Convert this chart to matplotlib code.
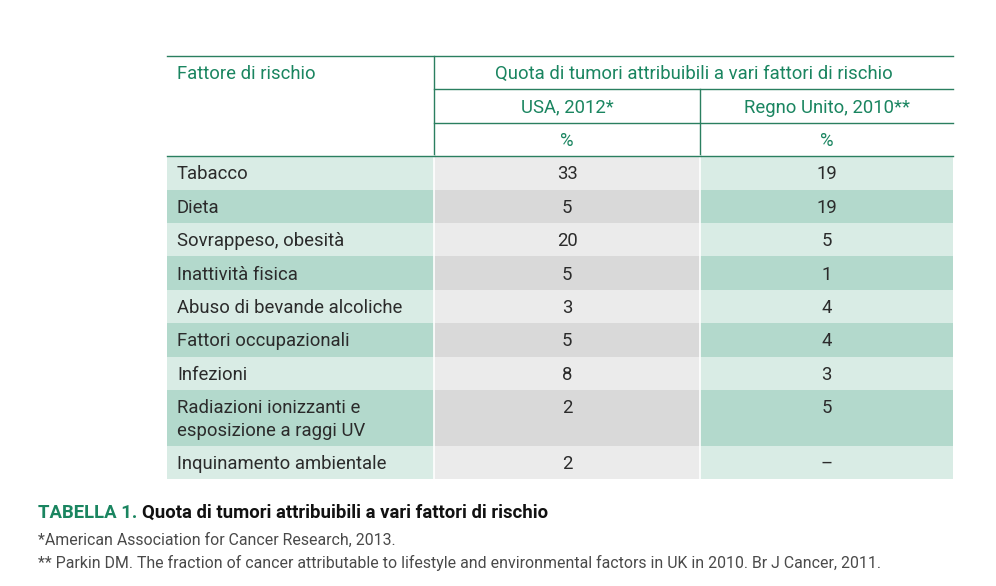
import matplotlib.pyplot as plt
from matplotlib.patches import Rectangle

# data
fattori = ["Tabacco", "Dieta", "Sovrappeso, obesità", "Inattività fisica",
           "Abuso di bevande alcoliche", "Fattori occupazionali", "Infezioni",
           "Radiazioni ionizzanti e\nesposizione a raggi UV",
           "Inquinamento ambientale"]
usa_2012 = ["33", "5", "20", "5", "3", "5", "8", "2", "2"]
uk_2010 = ["19", "19", "5", "1", "4", "4", "3", "5", "–"]

title_head = "Fattore di rischio"
group_head = "Quota di tumori attribuibili a vari fattori di rischio"
col_heads = ["USA, 2012*", "Regno Unito, 2010**"]
unit = "%"
caption_num = "TABELLA 1."
caption_txt = "Quota di tumori attribuibili a vari fattori di rischio"
notes = ["*American Association for Cancer Research, 2013.",
         "** Parkin DM. The fraction of cancer attributable to lifestyle and environmental factors in UK in 2010. Br J Cancer, 2011."]

# layout (pixels)
W, H = 996, 586
x0, x1, x2, x3 = 167, 434, 700, 953
head_top, head_h = 56, 33.4
row_h = 33.4
green = "#1a8560"
line_c = "#2a7f60"
txt_c = "#2b2b2b"
light_g, dark_g = "#d9ece5", "#b3d9cc"
light_n, dark_n = "#ebebeb", "#d9d9d9"

plt.rcParams['font.family'] = ['Roboto', 'DejaVu Sans']
fig = plt.figure(figsize=(W / 100, H / 100), dpi=100)
ax = fig.add_axes([0, 0, 1, 1])
ax.set_xlim(0, W)
ax.set_ylim(H, 0)
ax.axis('off')

fs = 13.3
dy = 1.5  # small downward nudge of text centres

# header
y_h1 = head_top + head_h
y_h2 = y_h1 + head_h
y_h3 = y_h2 + head_h
ax.plot([x0, x3], [head_top, head_top], color=line_c, lw=1)
ax.plot([x1, x3], [y_h1, y_h1], color=line_c, lw=1)
ax.plot([x1, x3], [y_h2, y_h2], color=line_c, lw=1)
ax.plot([x1, x1], [head_top, y_h3], color=line_c, lw=1)
ax.plot([x2, x2], [y_h1, y_h3], color=line_c, lw=1)
ax.text(x0 + 10, head_top + head_h / 2 + dy, title_head, color=green, fontsize=fs, va='center')
ax.text((x1 + x3) / 2, head_top + head_h / 2 + dy, group_head, color=green, fontsize=fs,
        va='center', ha='center')
for i, h in enumerate(col_heads):
    cx = (x1 + x2) / 2 if i == 0 else (x2 + x3) / 2
    ax.text(cx, y_h1 + head_h / 2 + dy, h, color=green, fontsize=fs, va='center', ha='center')
    ax.text(cx, y_h2 + head_h / 2 + dy, unit, color=green, fontsize=fs, va='center', ha='center')

# body
y = y_h3
for i, name in enumerate(fattori):
    lines = name.split("\n")
    h = row_h if len(lines) == 1 else 56
    dark = i % 2 == 1
    ax.add_patch(Rectangle((x0, y), x1 - x0, h, color=dark_g if dark else light_g, lw=0))
    ax.add_patch(Rectangle((x1, y), x2 - x1, h, color=dark_n if dark else light_n, lw=0))
    ax.add_patch(Rectangle((x2, y), x3 - x2, h, color=dark_g if dark else light_g, lw=0))
    ty = y + row_h / 2 + dy
    for k, ln in enumerate(lines):
        ax.text(x0 + 10, ty + 23 * k, ln, color=txt_c, fontsize=fs, va='center')
    ax.text((x1 + x2) / 2, ty, usa_2012[i], color=txt_c, fontsize=fs, va='center', ha='center')
    ax.text((x2 + x3) / 2, ty, uk_2010[i], color=txt_c, fontsize=fs, va='center', ha='center')
    y += h
ax.plot([x1, x1], [y_h3, y], color='white', lw=1.2)
ax.plot([x2, x2], [y_h3, y], color='white', lw=1.2)
ax.plot([x0, x3], [y_h3, y_h3], color=line_c, lw=1)

# caption
t = ax.text(38, 513, caption_num + " ", color=green, fontsize=fs, fontweight='bold', va='center')
fig.canvas.draw()
bb = t.get_window_extent()
x_after = ax.transData.inverted().transform((bb.x1, 0))[0]
ax.text(x_after, 513, caption_txt, color='#111111', fontsize=fs, fontweight='bold', va='center')
ax.text(38, 540, notes[0], color='#4a4a4a', fontsize=11.4, va='center')
ax.text(38, 563, notes[1], color='#4a4a4a', fontsize=11.4, va='center')

fig.savefig("out.png", dpi=100)
